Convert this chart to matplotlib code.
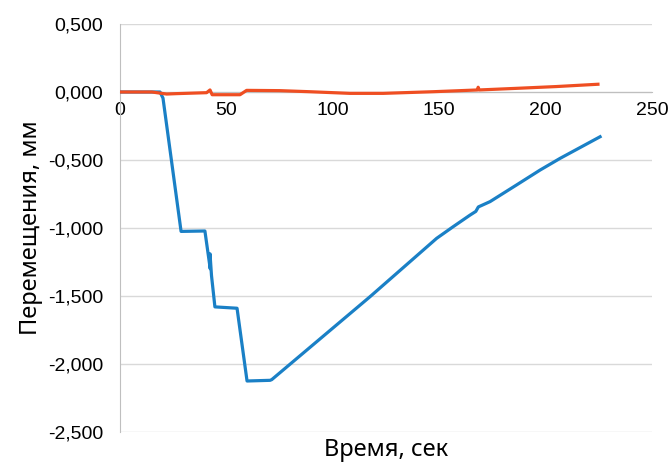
import numpy as np
import matplotlib
matplotlib.use('Agg')
import matplotlib.pyplot as plt
from matplotlib.ticker import FuncFormatter

# blue series: time (s), displacement (mm)
t_blue = [0, 10, 18.8, 20.2, 28.7, 39.9, 42.4, 42.3, 43.0, 44.6, 55.0, 59.7,
          70.5, 71.3, 117.5, 148.8, 156.6, 164.5, 166.5, 167.2, 168.4, 173.9,
          186.4, 197.4, 206.8, 225.6]
y_blue = [0, 0, 0, -0.045, -1.025, -1.022, -1.30, -1.19, -1.35, -1.58, -1.59, -2.125,
          -2.12, -2.115, -1.505, -1.076, -0.99, -0.905, -0.885, -0.878, -0.845, -0.806,
          -0.683, -0.574, -0.488, -0.329]

# orange series
t_orange = [0, 15, 21.9, 26.6, 40.7, 42.3, 43.3, 56.4, 59.5, 75, 89.3, 108, 123.7,
            147, 160, 168.0, 168.3, 168.8, 186.5, 205, 224.6]
y_orange = [0, 0, -0.015, -0.012, -0.005, 0.015, -0.02, -0.02, 0.012, 0.01, 0.002, -0.01,
            -0.01, 0.002, 0.01, 0.015, 0.035, 0.015, 0.027, 0.04, 0.057]

x_ticks = [0, 50, 100, 150, 200, 250]
y_ticks = [0.5, 0.0, -0.5, -1.0, -1.5, -2.0, -2.5]

fig = plt.figure(figsize=(6.7, 4.66), dpi=100)
ax = fig.add_axes([120/670, 34/466, 532/670, 408/466])

ax.plot(t_blue, y_blue, color='#1a80c6', lw=2.3, zorder=3)
ax.plot(t_orange, y_orange, color='#ef4e22', lw=2.3, zorder=4)

ax.set_xlim(0, 250)
ax.set_ylim(-2.5, 0.5)
ax.set_xticks(x_ticks)
ax.set_yticks(y_ticks)
ax.yaxis.set_major_formatter(FuncFormatter(lambda v, p: ('%.3f' % v).replace('.', ',')))
ax.xaxis.set_major_formatter(FuncFormatter(lambda v, p: '%d' % v))

ax.grid(axis='y', color='#d9d9d9', lw=1.0, zorder=0)
ax.set_axisbelow(True)
for s in ['top', 'right']:
    ax.spines[s].set_visible(False)
ax.spines['bottom'].set_position(('data', 0))
ax.spines['bottom'].set_color('#bfbfbf')
ax.spines['left'].set_color('#bfbfbf')
ax.spines['bottom'].set_zorder(1)
ax.tick_params(length=0, labelsize=14, colors='black', labelfontfamily='Liberation Sans')
ax.tick_params(axis='x', pad=7)
ax.tick_params(axis='y', pad=12)

ax.set_xlabel('Время, сек', fontsize=17, family='Noto Sans')
ax.set_ylabel('Перемещения, мм', fontsize=17, family='Noto Sans')
ax.xaxis.set_label_coords(0.5, -0.015)
ax.yaxis.set_label_coords(-0.145, 0.5)

fig.savefig('out.png', dpi=100)
